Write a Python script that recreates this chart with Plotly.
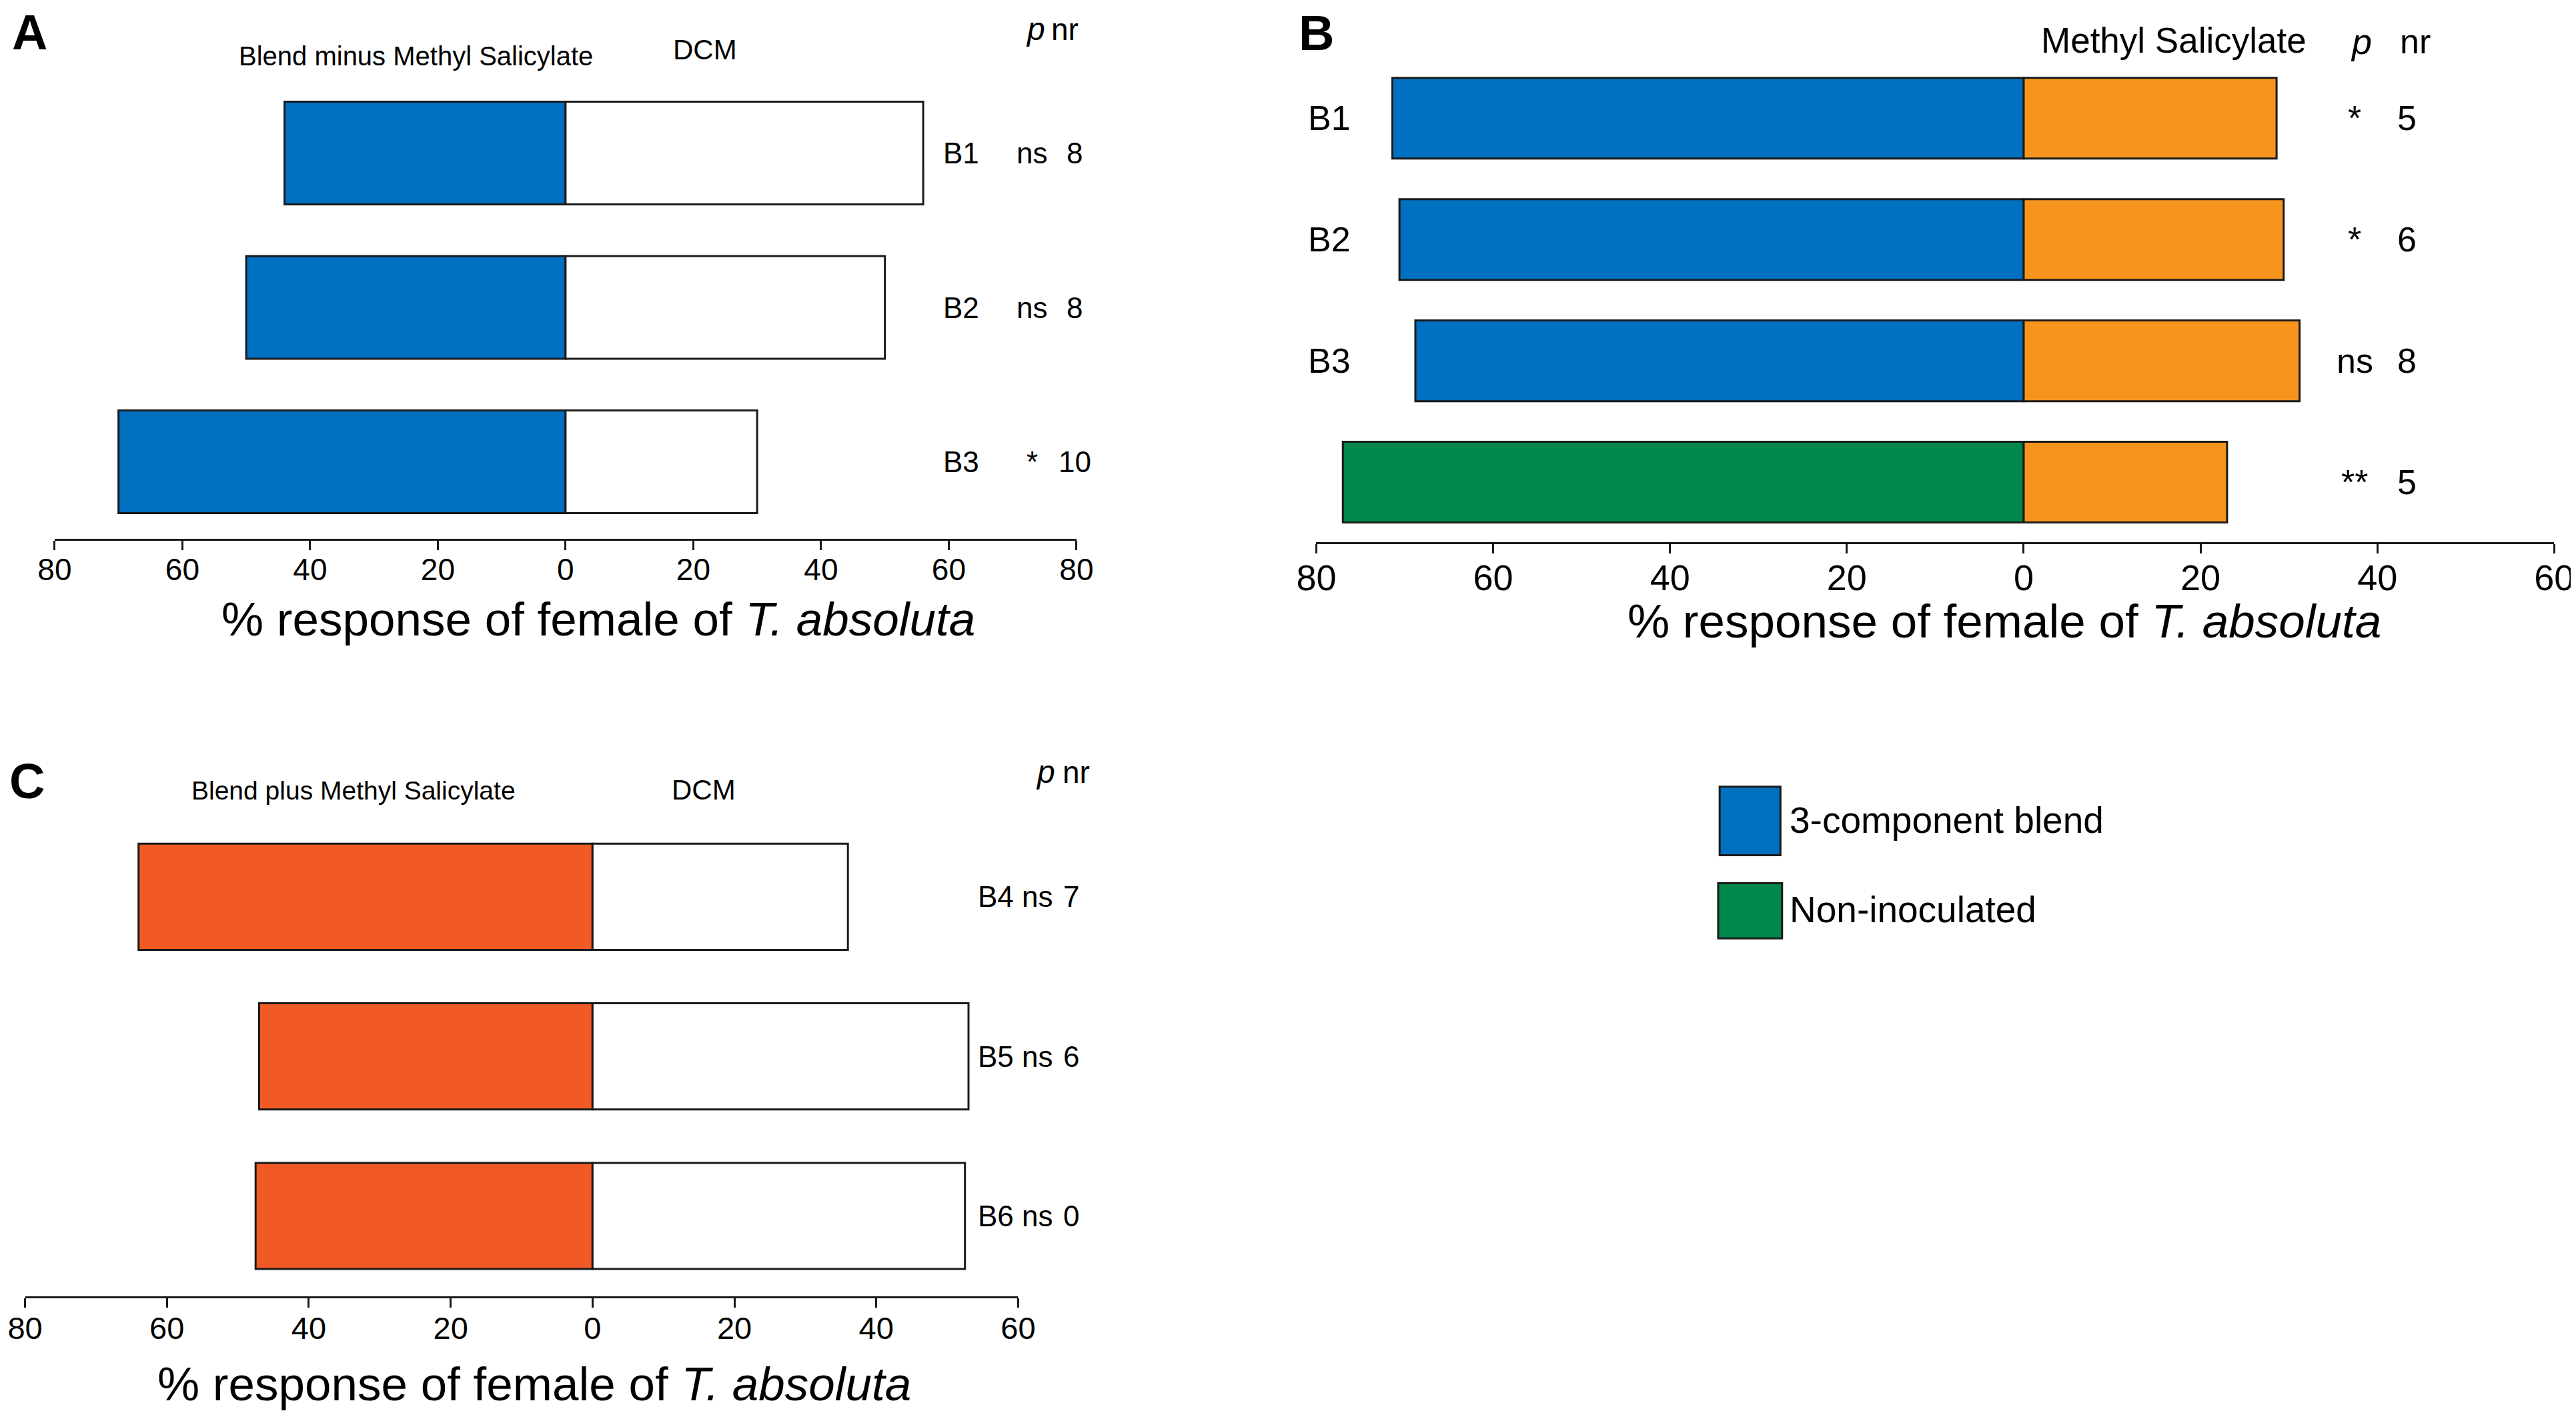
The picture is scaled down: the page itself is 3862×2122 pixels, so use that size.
import plotly.graph_objects as go

# ---- data ----
a_groups = ["B1", "B2", "B3"]
a_blend_minus = [44, 50, 70]
a_dcm = [56, 50, 30]
a_p = ["ns", "ns", "*"]
a_nr = ["8", "8", "10"]

b_groups = ["B1", "B2", "B3", "Non-inoculated"]
b_labels = ["B1", "B2", "B3", ""]
b_odour = [71.4, 70.6, 68.8, 77]
b_mesa = [28.6, 29.4, 31.2, 23]
b_p = ["*", "*", "ns", "**"]
b_nr = ["5", "6", "8", "5"]

c_groups = ["B4", "B5", "B6"]
c_blend_plus = [64, 47, 47.5]
c_dcm = [36, 53, 52.5]
c_p = ["ns", "ns", "ns"]
c_nr = ["7", "6", "0"]

ticks_a = [-80, -60, -40, -20, 0, 20, 40, 60, 80]
ticks_bc = [-80, -60, -40, -20, 0, 20, 40, 60]

BLUE = "#0070c0"
GREEN = "#00884a"
ORANGE = "#f7941d"
RED = "#f15a24"
EDGE = "#1a1a1a"
FONT = "Liberation Sans, Arial, sans-serif"

# layout is worked out on a 1568 x 862 grid, then scaled to paper
W, H = 1568, 862


def px(x):
    return x / W


def py(y):
    return 1 - y / H


fig = go.Figure()


def bars(groups, left, right, lcol, rcol, n):
    xa = "x" if n == 1 else f"x{n}"
    ya = "y" if n == 1 else f"y{n}"
    fig.add_trace(go.Bar(y=groups, x=[-v for v in left], orientation="h",
                         marker=dict(color=lcol, line=dict(color=EDGE, width=3)),
                         width=0.665, xaxis=xa, yaxis=ya, showlegend=False))
    fig.add_trace(go.Bar(y=groups, x=right, orientation="h",
                         marker=dict(color=rcol, line=dict(color=EDGE, width=3)),
                         width=0.665, xaxis=xa, yaxis=ya, showlegend=False))


bars(a_groups, a_blend_minus, a_dcm, BLUE, "white", 1)
bars(b_groups, b_odour, b_mesa, [BLUE, BLUE, BLUE, GREEN], ORANGE, 2)
bars(c_groups, c_blend_plus, c_dcm, RED, "white", 3)


def xaxis(dom, ticks, size, anchor):
    return dict(domain=dom, range=[ticks[0], ticks[-1]], anchor=anchor,
                tickvals=ticks, ticktext=[str(abs(t)) for t in ticks],
                tickfont=dict(family=FONT, size=size, color="black"),
                showline=True, linecolor=EDGE, linewidth=3,
                ticks="outside", ticklen=14, tickwidth=3, tickcolor=EDGE,
                ticklabelstandoff=-10, automargin=False, ticklabeloverflow="allow",
                showgrid=False, zeroline=False, fixedrange=True)


def yaxis(dom, groups, rng, anchor):
    return dict(domain=dom, range=rng, anchor=anchor, type="category",
                categoryorder="array", categoryarray=groups[::-1],
                visible=False, fixedrange=True)


ann = []


def text(x, y, s, size, yref="paper", xanchor="center", bold=False):
    if yref == "paper":
        y = py(y)
    ann.append(dict(x=px(x), y=y, xref="paper", yref=yref, text=s, showarrow=False,
                    xanchor=xanchor, yanchor="middle",
                    font=dict(family=FONT, size=size, color="black",
                              weight="bold" if bold else "normal")))


TITLE = "% response of female of <i>T. absoluta</i>"

# panel A
text(15, 16.5, "A", 74, bold=True)
text(250, 31, "Blend minus Methyl Salicylate", 40)
text(426, 27, "DCM", 42)
text(627, 14.5, "<i>p</i>", 48)
text(645, 14.5, "nr", 46)
for g, p, n in zip(a_groups, a_p, a_nr):
    text(582, g, g, 44, yref="y")
    text(625, g, p, 44, yref="y")
    text(651, g, n, 44, yref="y")
text(361, 374, TITLE, 71)

# panel B
text(798, 16.9, "B", 74, bold=True)
text(1320, 21.5, "Methyl Salicylate", 53)
text(1434, 22, "<i>p</i>", 54)
text(1467, 22, "nr", 52)
for g, lab, p, n in zip(b_groups, b_labels, b_p, b_nr):
    if lab:
        text(806, g, lab, 52, yref="y2")
    text(1430, g, p, 52, yref="y2")
    text(1462, g, n, 52, yref="y2")
text(1217, 375, TITLE, 71)

# panel C
text(13, 472.5, "C", 74, bold=True)
text(212, 478.5, "Blend plus Methyl Salicylate", 39)
text(425, 477.8, "DCM", 42)
text(633, 467, "<i>p</i>", 48)
text(652, 467, "nr", 46)
for g, p, n in zip(c_groups, c_p, c_nr):
    text(603, g, g, 44, yref="y3")
    text(628, g, p, 44, yref="y3")
    text(649, g, n, 44, yref="y3")
text(322, 840, TITLE, 71)

# legend
text(1085.3, 496.6, "3-component blend", 55, xanchor="left")
text(1085.3, 551, "Non-inoculated", 55, xanchor="left")
shapes = [
    dict(type="rect", xref="paper", yref="paper", x0=px(1043.5), x1=px(1080.5),
         y0=py(517.7), y1=py(476), fillcolor=BLUE, line=dict(color=EDGE, width=3)),
    dict(type="rect", xref="paper", yref="paper", x0=px(1042.6), x1=px(1081.5),
         y0=py(568.4), y1=py(534.8), fillcolor=GREEN, line=dict(color=EDGE, width=3)),
]

fig.update_layout(
    width=3862, height=2122,
    margin=dict(l=0, r=0, t=0, b=0),
    paper_bgcolor="white", plot_bgcolor="white",
    barmode="relative",
    xaxis=xaxis([px(30), px(652)], ticks_a, 46, "y"),
    yaxis=yaxis([py(324.8), py(30)], a_groups, [-0.497, 2.638], "x"),
    xaxis2=xaxis([px(798), px(1551.5)], ticks_bc, 54, "y2"),
    yaxis2=yaxis([py(327), py(30)], b_groups, [-0.494, 3.524], "x2"),
    xaxis3=xaxis([px(12), px(616.5)], ticks_bc, 47, "y3"),
    yaxis3=yaxis([py(786.5), py(450)], c_groups, [-0.504, 2.957], "x3"),
    annotations=ann,
    shapes=shapes,
)

fig.write_html("out.html")
